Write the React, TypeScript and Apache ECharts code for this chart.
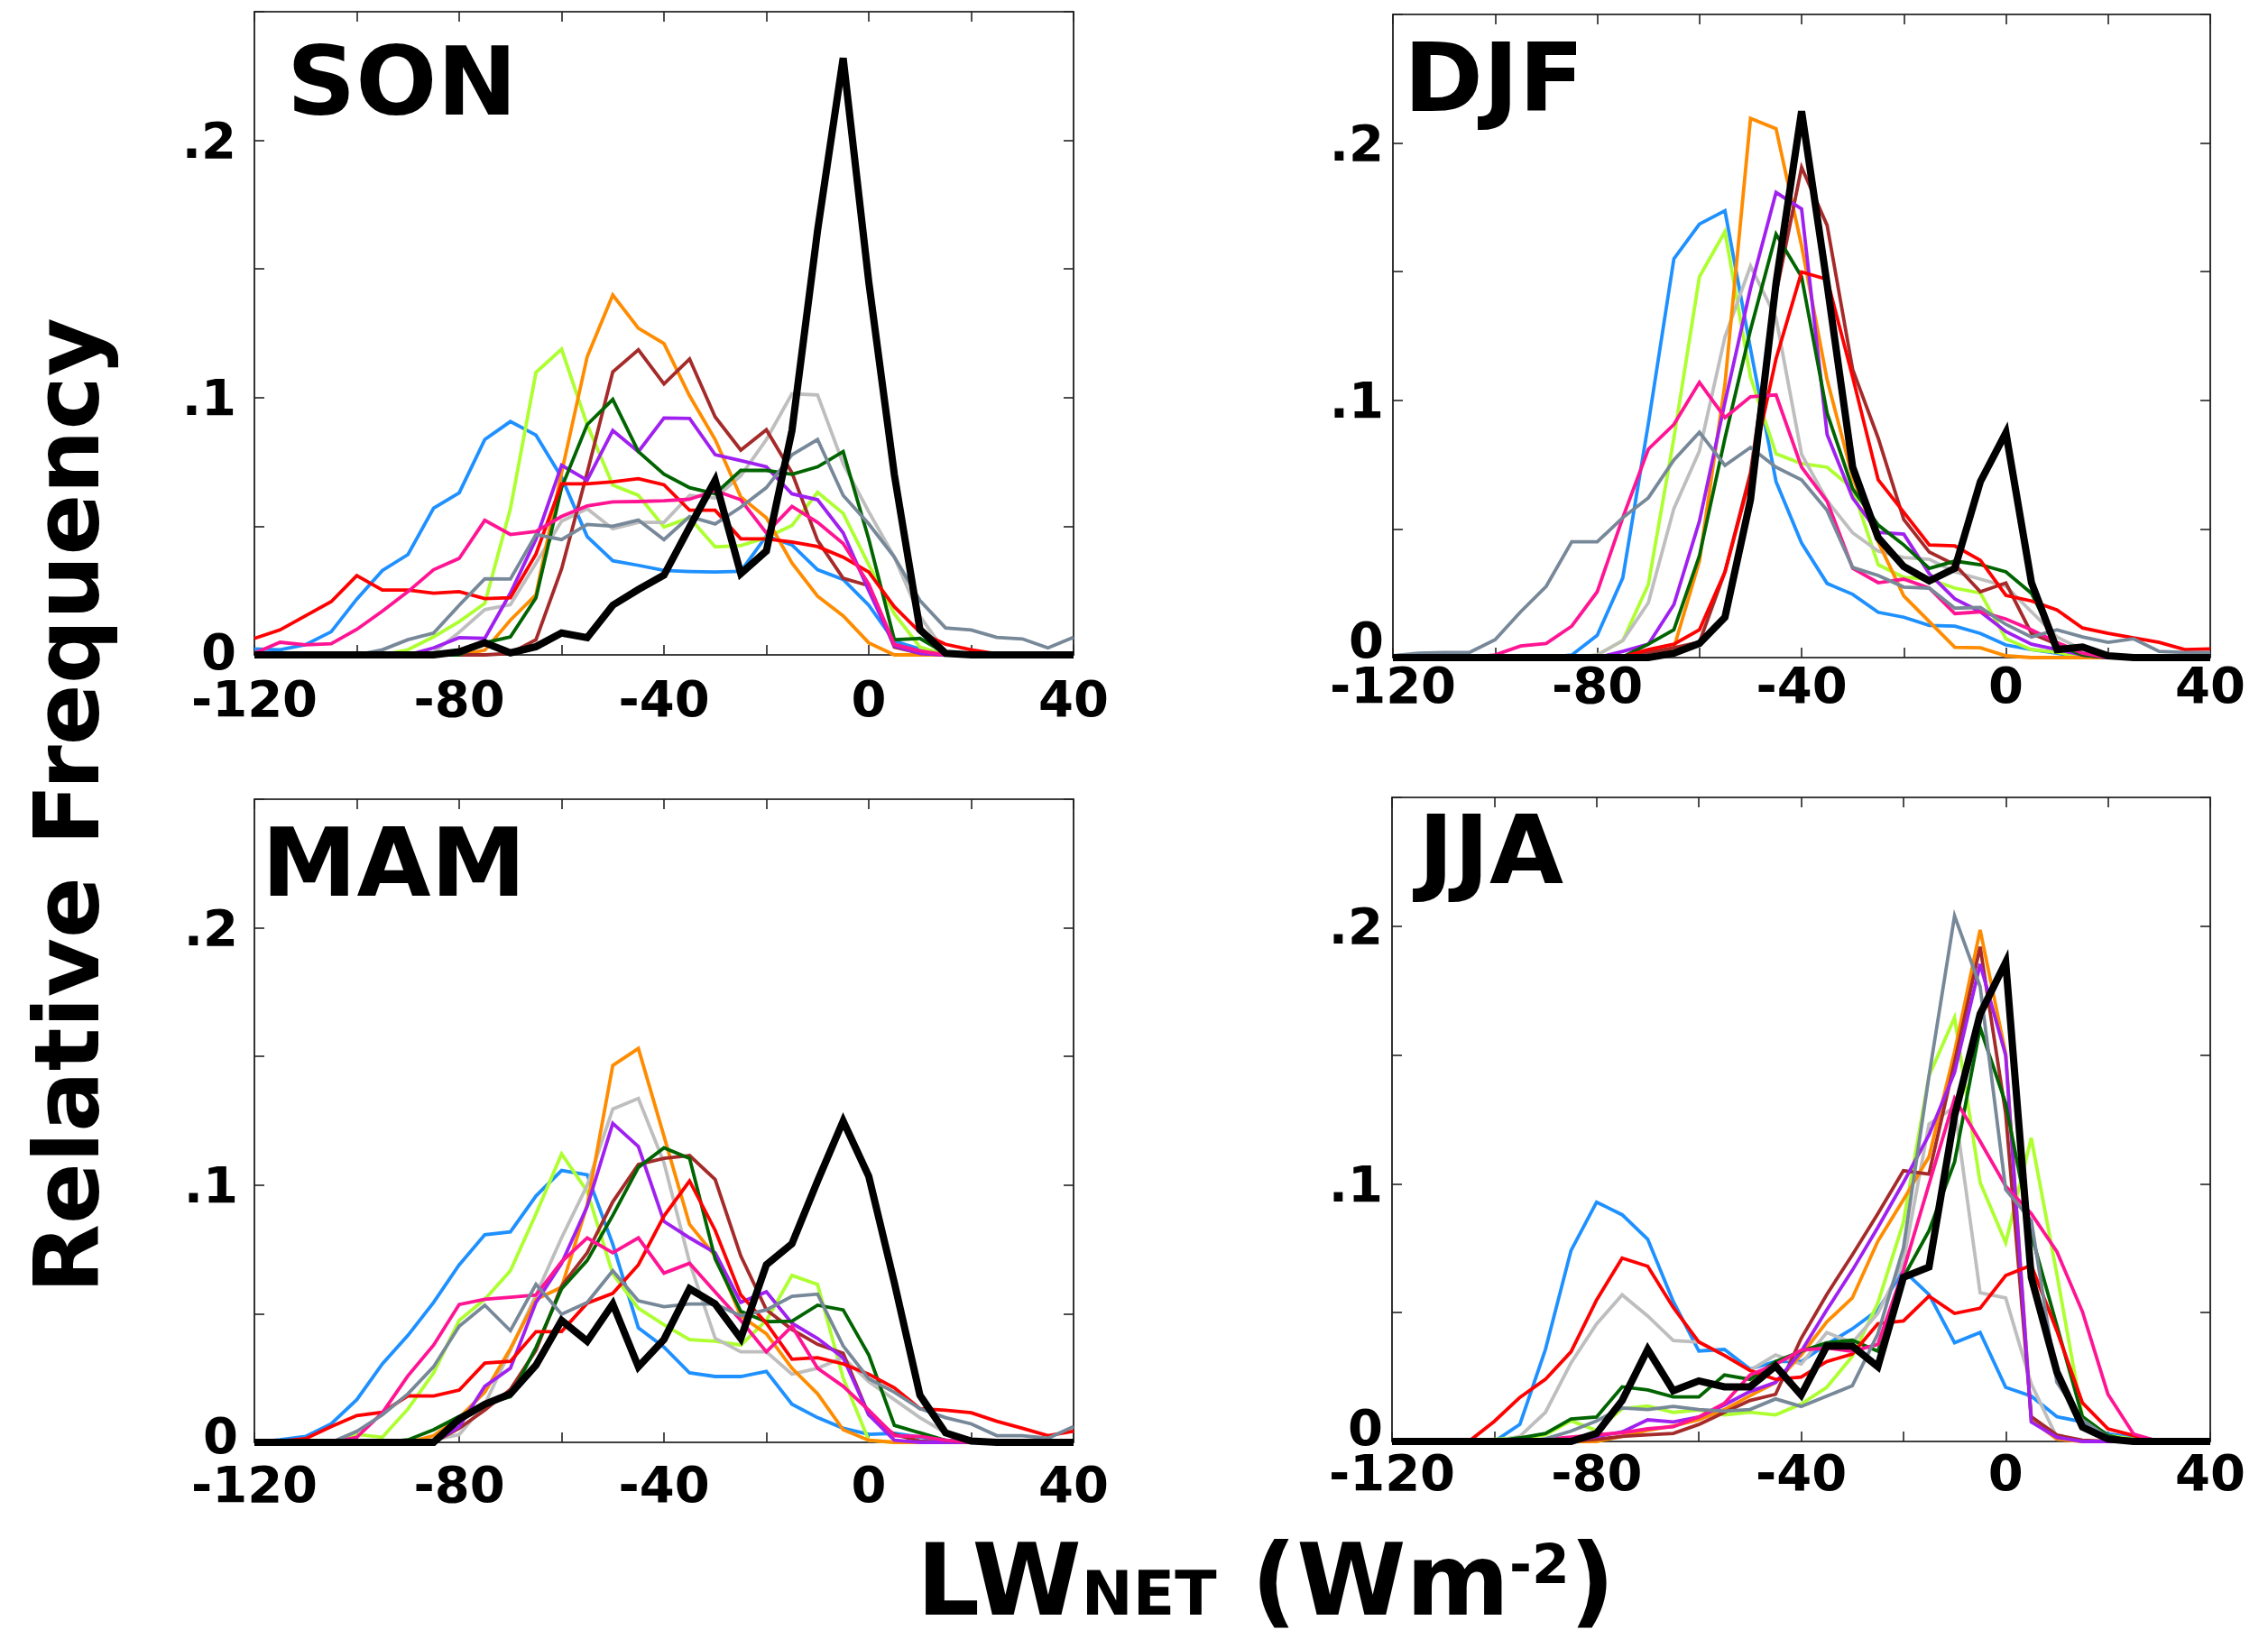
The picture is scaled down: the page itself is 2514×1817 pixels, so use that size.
import React, { useEffect, useRef } from 'react';
import * as echarts from 'echarts';

// bin centres (W m-2)
const X_BINS = [-120, -115, -110, -105, -100, -95, -90, -85, -80, -75, -70, -65, -60, -55, -50, -45, -40, -35, -30, -25, -20, -15, -10, -5, 0, 5, 10, 15, 20, 25, 30, 35, 40];

const SEASONS = ['SON', 'DJF', 'MAM', 'JJA'];
const COLORS = ['#1E90FF', '#ADFF2F', '#BEBEBE', '#FF8C00', '#A52A2A', '#A020F0', '#006400', '#FF0000', '#FF1493', '#778899', '#000000'];

// ---- SON ----
const SON_BLUE = [0.0023, 0.002, 0.004, 0.009, 0.0217, 0.0328, 0.039, 0.057, 0.063, 0.0837, 0.0907, 0.0854, 0.069, 0.046, 0.0366, 0.0348, 0.0328, 0.0324, 0.0322, 0.0325, 0.0462, 0.0427, 0.0331, 0.0293, 0.0193, 0.0053, 0.0023, 0.0006, 0, 0, 0, 0, 0];
const SON_LIME = [0, 0, 0, 0, 0, 0, 0.002, 0.007, 0.0129, 0.02, 0.0568, 0.1098, 0.1188, 0.0895, 0.066, 0.062, 0.0497, 0.0533, 0.042, 0.0425, 0.0456, 0.0503, 0.0632, 0.055, 0.035, 0.016, 0.003, 0, 0, 0, 0, 0, 0];
const SON_SILVER = [0, 0, 0, 0, 0, 0, 0, 0.001, 0.0088, 0.0176, 0.0195, 0.0357, 0.052, 0.0568, 0.049, 0.0515, 0.0515, 0.062, 0.061, 0.0696, 0.0837, 0.1015, 0.101, 0.0743, 0.0556, 0.038, 0.015, 0.001, 0, 0, 0, 0, 0];
const SON_ORANGE = [0, 0, 0, 0, 0, 0, 0, 0, 0, 0.0018, 0.0135, 0.0234, 0.0708, 0.1159, 0.1399, 0.127, 0.121, 0.1007, 0.0837, 0.0614, 0.0533, 0.0357, 0.0228, 0.0152, 0.0047, 0, 0, 0, 0, 0, 0, 0, 0];
const SON_BROWN = [0, 0, 0, 0, 0, 0, 0, 0, 0, 0, 0.0006, 0.0059, 0.0334, 0.0708, 0.11, 0.1186, 0.1053, 0.115, 0.0925, 0.0796, 0.0875, 0.0708, 0.0445, 0.0298, 0.0269, 0.003, 0.0006, 0, 0, 0, 0, 0, 0];
const SON_PURPLE = [0, 0, 0, 0, 0, 0, 0, 0.0027, 0.0067, 0.0064, 0.024, 0.045, 0.0737, 0.0679, 0.0872, 0.079, 0.0921, 0.0919, 0.0778, 0.0755, 0.0731, 0.0626, 0.0603, 0.0474, 0.025, 0.0035, 0.0006, 0, 0, 0, 0, 0, 0];
const SON_DKGREEN = [0, 0, 0, 0, 0, 0, 0, 0, 0, 0.0047, 0.007, 0.0222, 0.065, 0.0895, 0.0993, 0.079, 0.0702, 0.065, 0.0626, 0.0717, 0.0717, 0.0702, 0.0731, 0.079, 0.045, 0.0059, 0.0064, 0.0006, 0, 0, 0, 0, 0];
const SON_RED = [0.0064, 0.0097, 0.0152, 0.0207, 0.0308, 0.0252, 0.0252, 0.024, 0.0246, 0.0219, 0.0222, 0.0392, 0.0665, 0.0665, 0.0673, 0.0685, 0.0661, 0.0562, 0.0562, 0.0451, 0.0451, 0.0439, 0.0421, 0.038, 0.0322, 0.0187, 0.0088, 0.0041, 0.002, 0.0004, 0, 0, 0];
const SON_PINK = [0.0006, 0.0049, 0.0039, 0.0043, 0.0099, 0.017, 0.0246, 0.0331, 0.0375, 0.0523, 0.0468, 0.048, 0.0538, 0.0579, 0.0595, 0.0596, 0.0599, 0.0605, 0.0638, 0.0603, 0.0474, 0.0577, 0.0515, 0.0433, 0.0275, 0.0041, 0.0015, 0, 0, 0, 0, 0, 0];
const SON_SLATE = [0, 0, 0, 0, 0, 0.002, 0.0059, 0.0085, 0.0193, 0.0296, 0.0295, 0.0468, 0.0448, 0.0507, 0.05, 0.0524, 0.0448, 0.0538, 0.0509, 0.0574, 0.065, 0.0778, 0.0837, 0.062, 0.0509, 0.038, 0.0211, 0.0105, 0.0097, 0.0068, 0.0062, 0.0027, 0.0068];
const SON_BLACK = [0, 0, 0, 0, 0, 0, 0, 0, 0.0012, 0.0047, 0.0008, 0.0032, 0.0085, 0.0067, 0.0193, 0.0254, 0.031, 0.0497, 0.0679, 0.0316, 0.0404, 0.0872, 0.165, 0.232, 0.145, 0.07, 0.0098, 0.0006, 0, 0, 0, 0, 0];

// ---- DJF ----
const DJF_BLUE = [0, 0, 0, 0, 0, 0, 0, 0.001, 0.0087, 0.031, 0.0909, 0.155, 0.1685, 0.1737, 0.12, 0.0684, 0.0445, 0.0288, 0.0246, 0.0176, 0.0157, 0.0125, 0.0122, 0.0094, 0.0049, 0.0031, 0.0017, 0, 0, 0, 0, 0, 0];
const DJF_LIME = [0, 0, 0, 0, 0, 0, 0, 0, 0.001, 0.0066, 0.0284, 0.0853, 0.148, 0.1656, 0.109, 0.0792, 0.0754, 0.074, 0.0656, 0.0361, 0.0312, 0.0305, 0.027, 0.0251, 0.0073, 0.0031, 0.0021, 0, 0, 0, 0, 0, 0];
const DJF_SILVER = [0, 0, 0, 0, 0, 0, 0, 0, 0.001, 0.0066, 0.0213, 0.0579, 0.0803, 0.1246, 0.1522, 0.132, 0.079, 0.061, 0.0485, 0.0414, 0.0389, 0.0382, 0.0333, 0.0305, 0.0277, 0.0178, 0.008, 0.0031, 0.001, 0, 0, 0, 0];
const DJF_ORANGE = [0, 0, 0, 0, 0, 0, 0, 0, 0, 0, 0, 0.0038, 0.0375, 0.1063, 0.2096, 0.2056, 0.16, 0.108, 0.07, 0.045, 0.024, 0.014, 0.004, 0.0038, 0.0007, 0, 0, 0, 0, 0, 0, 0, 0];
const DJF_BROWN = [0, 0, 0, 0, 0, 0, 0, 0, 0, 0, 0.002, 0.0038, 0.006, 0.0333, 0.0719, 0.1414, 0.1906, 0.168, 0.112, 0.0853, 0.0537, 0.041, 0.0361, 0.0256, 0.029, 0.0094, 0.0052, 0.001, 0, 0, 0, 0, 0];
const DJF_PURPLE = [0, 0, 0, 0, 0, 0, 0, 0, 0, 0.0024, 0.0052, 0.0206, 0.053, 0.0993, 0.1435, 0.1808, 0.1744, 0.0867, 0.062, 0.0487, 0.048, 0.0326, 0.0228, 0.0178, 0.0101, 0.0052, 0.0031, 0.001, 0, 0, 0, 0, 0];
const DJF_DKGREEN = [0, 0, 0, 0, 0, 0, 0, 0, 0, 0.0003, 0.0052, 0.0108, 0.0396, 0.0853, 0.1274, 0.1646, 0.148, 0.095, 0.0656, 0.0515, 0.0438, 0.0347, 0.0375, 0.0361, 0.0333, 0.025, 0.005, 0.001, 0, 0, 0, 0, 0];
const DJF_RED = [0, 0, 0, 0, 0, 0, 0, 0, 0, 0.0003, 0.0031, 0.0052, 0.0108, 0.0333, 0.0705, 0.1162, 0.1499, 0.147, 0.109, 0.0691, 0.0565, 0.0438, 0.0434, 0.0378, 0.0242, 0.022, 0.0185, 0.0115, 0.0094, 0.0077, 0.0059, 0.0031, 0.0034];
const DJF_PINK = [0, 0, 0, 0, 0.001, 0.0045, 0.0055, 0.0122, 0.0256, 0.0544, 0.081, 0.0906, 0.107, 0.0933, 0.1014, 0.1021, 0.074, 0.0607, 0.0347, 0.0291, 0.0305, 0.027, 0.0171, 0.0178, 0.015, 0.0108, 0.0059, 0.0017, 0, 0, 0, 0, 0];
const DJF_SLATE = [0.0007, 0.0017, 0.002, 0.002, 0.0069, 0.0178, 0.0277, 0.045, 0.045, 0.0544, 0.0621, 0.0768, 0.0876, 0.0747, 0.0817, 0.074, 0.0691, 0.0572, 0.035, 0.0319, 0.0274, 0.027, 0.0192, 0.0195, 0.0129, 0.008, 0.0108, 0.008, 0.0059, 0.0073, 0.0024, 0.002, 0.002];
const DJF_BLACK = [0, 0, 0, 0, 0, 0, 0, 0, 0, 0, 0, 0.0017, 0.0055, 0.0157, 0.0614, 0.1456, 0.2124, 0.145, 0.074, 0.0466, 0.0354, 0.0298, 0.0347, 0.0684, 0.0874, 0.0291, 0.0031, 0.0041, 0.0007, 0, 0, 0, 0];

// ---- MAM ----
const MAM_BLUE = [0, 0.001, 0.0023, 0.0072, 0.0166, 0.0305, 0.0416, 0.0544, 0.069, 0.0807, 0.0818, 0.0958, 0.1057, 0.104, 0.077, 0.0445, 0.037, 0.027, 0.0256, 0.0256, 0.0276, 0.0148, 0.0096, 0.0055, 0.0031, 0.0035, 0.002, 0.0008, 0, 0, 0, 0, 0];
const MAM_LIME = [0, 0, 0, 0, 0.0031, 0.002, 0.013, 0.027, 0.0474, 0.0556, 0.0667, 0.0888, 0.1121, 0.0976, 0.0655, 0.0521, 0.0457, 0.0399, 0.0393, 0.0378, 0.0474, 0.0649, 0.0614, 0.025, 0.0008, 0, 0, 0, 0, 0, 0, 0, 0];
const MAM_SILVER = [0, 0, 0, 0, 0, 0, 0.0005, 0.001, 0.003, 0.0148, 0.0358, 0.0573, 0.0795, 0.0999, 0.1296, 0.1337, 0.1087, 0.07, 0.0404, 0.0352, 0.0352, 0.0265, 0.0288, 0.033, 0.0236, 0.0166, 0.0096, 0.0037, 0.0012, 0, 0, 0, 0];
const MAM_ORANGE = [0, 0, 0, 0, 0, 0, 0, 0.0026, 0.0096, 0.0195, 0.0364, 0.0556, 0.0603, 0.0923, 0.1465, 0.1531, 0.119, 0.0847, 0.0725, 0.0492, 0.0422, 0.0288, 0.0189, 0.0049, 0.0008, 0, 0, 0, 0, 0, 0, 0, 0];
const MAM_BROWN = [0, 0, 0, 0, 0, 0, 0, 0, 0.0055, 0.0125, 0.0206, 0.0358, 0.0608, 0.0737, 0.0935, 0.108, 0.1104, 0.1115, 0.1022, 0.0725, 0.0515, 0.0439, 0.0381, 0.0346, 0.0107, 0.0031, 0.0005, 0, 0, 0, 0, 0, 0];
const MAM_PURPLE = [0, 0, 0, 0, 0, 0, 0, 0, 0.0061, 0.0218, 0.0288, 0.0544, 0.0696, 0.0917, 0.124, 0.115, 0.0859, 0.0795, 0.0737, 0.0544, 0.0585, 0.0463, 0.0404, 0.0329, 0.0107, 0.0008, 0, 0, 0, 0, 0, 0, 0];
const MAM_DKGREEN = [0, 0, 0, 0, 0, 0, 0.001, 0.0049, 0.0101, 0.0148, 0.0177, 0.0369, 0.0597, 0.0707, 0.0882, 0.1069, 0.1145, 0.1104, 0.0713, 0.0509, 0.0469, 0.0471, 0.0533, 0.0515, 0.034, 0.0066, 0.0037, 0.0008, 0, 0, 0, 0, 0];
const MAM_RED = [0.0002, 0.0005, 0.0014, 0.0061, 0.0104, 0.0117, 0.0181, 0.018, 0.0203, 0.0308, 0.0315, 0.043, 0.0431, 0.0541, 0.0579, 0.069, 0.088, 0.1016, 0.0824, 0.0573, 0.0463, 0.0323, 0.0329, 0.0305, 0.0265, 0.0212, 0.0131, 0.0125, 0.0115, 0.0082, 0.0055, 0.0026, 0.0043];
const MAM_PINK = [0, 0, 0, 0, 0.002, 0.0115, 0.0259, 0.0378, 0.0536, 0.0556, 0.0564, 0.0573, 0.0702, 0.0795, 0.0737, 0.0795, 0.0658, 0.0696, 0.0585, 0.0474, 0.0352, 0.0451, 0.0288, 0.0218, 0.0125, 0.0026, 0.0023, 0.0008, 0, 0, 0, 0, 0];
const MAM_SLATE = [0, 0, 0, 0, 0.0043, 0.0107, 0.0189, 0.0294, 0.0451, 0.0533, 0.0434, 0.0614, 0.0498, 0.0544, 0.0667, 0.055, 0.0527, 0.0538, 0.0538, 0.0492, 0.0515, 0.0568, 0.0576, 0.0375, 0.0247, 0.0195, 0.0131, 0.0096, 0.0072, 0.0026, 0.0026, 0.0016, 0.0061];
const MAM_BLACK = [0, 0, 0, 0, 0, 0, 0, 0, 0.009, 0.0148, 0.0189, 0.03, 0.0474, 0.0393, 0.0538, 0.0294, 0.04, 0.0597, 0.0538, 0.0404, 0.069, 0.0772, 0.1016, 0.1249, 0.1034, 0.062, 0.0183, 0.0037, 0.0005, 0, 0, 0, 0];

// ---- JJA ----
const JJA_BLUE = [0, 0, 0, 0, 0, 0.0066, 0.0357, 0.0741, 0.0929, 0.088, 0.0785, 0.0543, 0.0351, 0.0357, 0.0281, 0.031, 0.031, 0.0377, 0.0437, 0.051, 0.0664, 0.057, 0.0383, 0.0423, 0.021, 0.0176, 0.0096, 0.0076, 0.0029, 0.0016, 0.0005, 0, 0];
const JJA_LIME = [0, 0, 0, 0, 0.0008, 0.0014, 0.0026, 0.008, 0.0043, 0.0127, 0.0138, 0.0113, 0.0122, 0.0103, 0.0113, 0.0103, 0.0145, 0.021, 0.033, 0.0537, 0.0851, 0.1419, 0.1646, 0.1005, 0.0771, 0.1178, 0.065, 0.0096, 0.0023, 0.0009, 0, 0, 0];
const JJA_SILVER = [0, 0, 0, 0, 0, 0.002, 0.0113, 0.0305, 0.0456, 0.0569, 0.0487, 0.0392, 0.0386, 0.0334, 0.0276, 0.0336, 0.03, 0.0423, 0.0383, 0.0497, 0.0697, 0.1232, 0.1298, 0.0577, 0.0557, 0.0223, 0.0016, 0, 0, 0, 0, 0, 0];
const JJA_ORANGE = [0, 0, 0, 0, 0, 0, 0, 0, 0, 0.002, 0.0043, 0.006, 0.0084, 0.0124, 0.0177, 0.0229, 0.0335, 0.0464, 0.0557, 0.0777, 0.0938, 0.1105, 0.1512, 0.1986, 0.1505, 0.0083, 0.0009, 0, 0, 0, 0, 0, 0];
const JJA_BROWN = [0, 0, 0, 0, 0, 0, 0, 0, 0.0008, 0.002, 0.0026, 0.0031, 0.0066, 0.0113, 0.0159, 0.0183, 0.04, 0.057, 0.0724, 0.0884, 0.1051, 0.1038, 0.1472, 0.192, 0.1272, 0.0096, 0.0025, 0.0005, 0, 0, 0, 0, 0];
const JJA_PURPLE = [0, 0, 0, 0, 0, 0, 0, 0, 0.002, 0.0037, 0.0084, 0.0076, 0.0095, 0.0142, 0.0194, 0.0229, 0.0349, 0.051, 0.0664, 0.0831, 0.1005, 0.119, 0.1432, 0.1853, 0.1499, 0.0076, 0.0016, 0, 0, 0, 0, 0, 0];
const JJA_DKGREEN = [0, 0, 0, 0, 0, 0.0014, 0.0031, 0.0087, 0.0095, 0.0212, 0.02, 0.0173, 0.0173, 0.0258, 0.0241, 0.031, 0.035, 0.0383, 0.0393, 0.035, 0.0637, 0.0818, 0.1085, 0.1606, 0.1312, 0.0804, 0.045, 0.0096, 0.0023, 0, 0, 0, 0];
const JJA_RED = [0, 0, 0, 0, 0.0078, 0.0171, 0.0241, 0.0348, 0.0549, 0.0712, 0.068, 0.052, 0.0386, 0.0334, 0.0276, 0.0241, 0.025, 0.031, 0.0339, 0.0457, 0.0468, 0.0564, 0.0497, 0.0517, 0.0644, 0.0684, 0.043, 0.015, 0.0049, 0.0023, 0, 0, 0];
const JJA_PINK = [0, 0, 0, 0, 0, 0, 0.0008, 0.0017, 0.0026, 0.0034, 0.0049, 0.0057, 0.0095, 0.0148, 0.0258, 0.0299, 0.0354, 0.0363, 0.035, 0.0377, 0.0664, 0.0998, 0.1332, 0.1165, 0.0991, 0.0884, 0.0737, 0.0504, 0.0183, 0.0029, 0, 0, 0];
const JJA_SLATE = [0, 0, 0, 0, 0, 0, 0.001, 0.004, 0.008, 0.013, 0.0124, 0.0136, 0.0124, 0.0118, 0.0124, 0.0165, 0.0136, 0.0176, 0.0216, 0.0417, 0.0751, 0.1419, 0.204, 0.1766, 0.0978, 0.0858, 0.023, 0.0083, 0.0016, 0, 0, 0, 0];
const JJA_BLACK = [0, 0, 0, 0, 0, 0, 0, 0, 0.0031, 0.0159, 0.0357, 0.0197, 0.0235, 0.0212, 0.0212, 0.0293, 0.018, 0.037, 0.037, 0.029, 0.0637, 0.0677, 0.1265, 0.1659, 0.186, 0.0637, 0.027, 0.0056, 0.0009, 0, 0, 0, 0];

const SEASON_DATA = [
  [SON_BLUE, SON_LIME, SON_SILVER, SON_ORANGE, SON_BROWN, SON_PURPLE, SON_DKGREEN, SON_RED, SON_PINK, SON_SLATE, SON_BLACK],
  [DJF_BLUE, DJF_LIME, DJF_SILVER, DJF_ORANGE, DJF_BROWN, DJF_PURPLE, DJF_DKGREEN, DJF_RED, DJF_PINK, DJF_SLATE, DJF_BLACK],
  [MAM_BLUE, MAM_LIME, MAM_SILVER, MAM_ORANGE, MAM_BROWN, MAM_PURPLE, MAM_DKGREEN, MAM_RED, MAM_PINK, MAM_SLATE, MAM_BLACK],
  [JJA_BLUE, JJA_LIME, JJA_SILVER, JJA_ORANGE, JJA_BROWN, JJA_PURPLE, JJA_DKGREEN, JJA_RED, JJA_PINK, JJA_SLATE, JJA_BLACK],
];

// layout
const GRIDS = [
  { left: 282, top: 13, width: 908, height: 713 },
  { left: 1544, top: 16, width: 906, height: 713 },
  { left: 282, top: 886, width: 908, height: 713 },
  { left: 1543, top: 884, width: 907, height: 714 },
];
const X_LABEL_MARGIN = [20, 2, 18, 6];
const Y_LABEL_MARGIN = [20, 10, 18, 10];
const ZERO_LIFT = [4, 20, 8, 16];
const TITLE_POS = [
  { x: 318, y: 90 },
  { x: 1556, y: 86 },
  { x: 290, y: 956 },
  { x: 1572, y: 942 },
];

const FONT = '"DejaVu Sans", "Liberation Sans", sans-serif';

export default function App() {
  const ref = useRef<HTMLDivElement>(null);
  useEffect(() => {
    if (!ref.current) return;
    const chart = echarts.init(ref.current, undefined, { renderer: 'svg' });

    const xAxis: any[] = [];
    const yAxis: any[] = [];
    const series: any[] = [];
    const axisLine = { show: true, onZero: false, lineStyle: { color: '#000', width: 1.6 } };
    const axisTick = { show: true, inside: true, length: 11, lineStyle: { color: '#222', width: 1.6 } };
    const labelStyle = { fontSize: 56, fontFamily: FONT, fontWeight: 'bold', color: '#000' };

    GRIDS.forEach((g, gi) => {
      xAxis.push({
        gridIndex: gi, type: 'value', position: 'bottom', min: -120, max: 40, interval: 20,
        axisLine, axisTick, splitLine: { show: false },
        axisLabel: {
          ...labelStyle, margin: X_LABEL_MARGIN[gi], showMinLabel: true, showMaxLabel: true,
          formatter: (v: number) => (Math.round(v) % 40 === 0 ? String(Math.round(v)) : ''),
        },
      });
      xAxis.push({
        gridIndex: gi, type: 'value', position: 'top', min: -120, max: 40, interval: 20,
        axisLine, axisTick, splitLine: { show: false }, axisLabel: { show: false },
      });
      yAxis.push({
        gridIndex: gi, type: 'value', position: 'left', min: 0, max: 0.25, interval: 0.05,
        axisLine, axisTick, splitLine: { show: false },
        axisLabel: {
          ...labelStyle, margin: Y_LABEL_MARGIN[gi], showMinLabel: true,
          rich: {
            z: { ...labelStyle, padding: [0, 0, ZERO_LIFT[gi] * 2, 0] },
          },
          formatter: (v: number) => {
            if (Math.abs(v) < 1e-9) return '{z|0}';
            if (Math.abs(v - 0.1) < 1e-6) return '.1';
            if (Math.abs(v - 0.2) < 1e-6) return '.2';
            return '';
          },
        },
      });
      yAxis.push({
        gridIndex: gi, type: 'value', position: 'right', min: 0, max: 0.25, interval: 0.05,
        axisLine, axisTick, splitLine: { show: false }, axisLabel: { show: false },
      });

      SEASON_DATA[gi].forEach((vals, k) => {
        const isObs = k === COLORS.length - 1;
        series.push({
          type: 'line',
          xAxisIndex: gi * 2,
          yAxisIndex: gi * 2,
          data: X_BINS.map((x, i) => [x, vals[i]]),
          symbol: 'none',
          showSymbol: false,
          silent: true,
          z: isObs ? 4 : 3,
          lineStyle: { color: COLORS[k], width: isObs ? 8 : 3.8, join: 'miter', miterLimit: 4 },
        });
      });
    });

    const graphic: any[] = SEASONS.map((s, i) => ({
      type: 'text',
      x: TITLE_POS[i].x,
      y: TITLE_POS[i].y,
      style: {
        text: s, fill: '#000', fontSize: 106, fontWeight: 'bold', fontFamily: FONT,
        align: 'left', verticalAlign: 'middle',
      },
    }));
    graphic.push({
      type: 'text', x: 74, y: 893, rotation: Math.PI / 2,
      style: {
        text: 'Relative Frequency', fill: '#000', fontSize: 100, fontWeight: 'bold', fontFamily: FONT,
        align: 'center', verticalAlign: 'middle',
      },
    });
    graphic.push({
      type: 'text', x: 1403, y: 1752,
      style: {
        text: '{a|LW}{b|NET}{a| (Wm}{c|-2}{a|)}',
        fill: '#000', align: 'center', verticalAlign: 'middle',
        rich: {
          a: { fontSize: 110, fontWeight: 'bold', fontFamily: FONT, lineHeight: 96, fill: '#000' },
          b: { fontSize: 68, fontWeight: 'bold', fontFamily: FONT, lineHeight: 70, verticalAlign: 'bottom', fill: '#000' },
          c: { fontSize: 60, fontWeight: 'bold', fontFamily: FONT, lineHeight: 34, verticalAlign: 'top', fill: '#000' },
        },
      },
    });

    chart.setOption({
      animation: false,
      backgroundColor: '#ffffff',
      grid: GRIDS.map((g) => ({ ...g, containLabel: false })),
      xAxis,
      yAxis,
      series,
      graphic,
    });
    return () => chart.dispose();
  }, []);

  return (
    <div
      ref={ref}
      style={{ position: 'absolute', left: 0, top: 0, width: 2514, height: 1817, background: '#fff' }}
    />
  );
}
